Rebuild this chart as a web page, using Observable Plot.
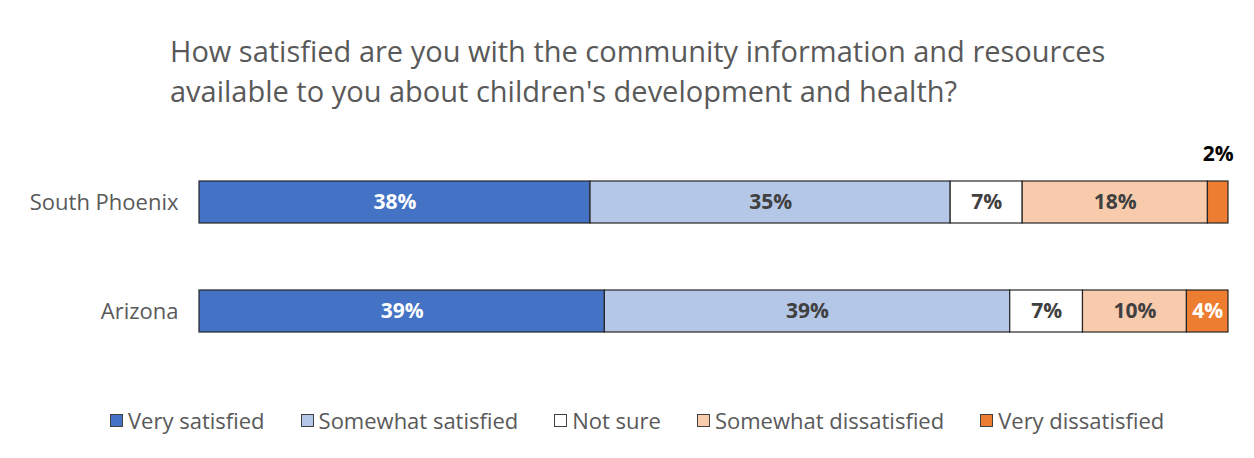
<!DOCTYPE html>
<html>
<head>
<meta charset="utf-8">
<script src="https://cdn.jsdelivr.net/npm/d3@7"></script>
<script src="https://cdn.jsdelivr.net/npm/@observablehq/plot@0.6"></script>
<style>
  body { margin: 0; background: #fff; font-family: "Open Sans", sans-serif; }
  #wrap { width: 1254px; height: 458px; position: relative; overflow: hidden; }
  #title { height: 120px; box-sizing: border-box; padding: 31px 0 0 170px; font-size: 29px; line-height: 40px; color: #595959; white-space: nowrap; }
  #chart { height: 270px; }
  #legend { position: absolute; top: 405px; left: 110px; display: flex; align-items: center; font-size: 22px; color: #595959; white-space: nowrap; }
  .item { display: flex; align-items: center; }
  .sw { width: 11px; height: 11px; border: 1px solid #404040; margin-right: 5px; }
</style>
</head>
<body>
<div id="wrap">
  <div id="title">How satisfied are you with the community information and resources<br>available to you about children's development and health?</div>
  <div id="chart"></div>
  <div id="legend"></div>
</div>
<script>
const regions = ["South Phoenix", "Arizona"];
const categories = ["Very satisfied", "Somewhat satisfied", "Not sure", "Somewhat dissatisfied", "Very dissatisfied"];
const southPhoenix = [38, 35, 7, 18, 2];
const arizona = [39, 39, 7, 10, 4];
const colors = ["#4472C4", "#B4C7E7", "#FFFFFF", "#F8CBAD", "#ED7D31"];
const labelColors = ["#FFFFFF", "#404040", "#404040", "#404040", "#FFFFFF"];
const legendGaps = [36, 36, 36, 36, 0];

const data = [];
[southPhoenix, arizona].forEach((vals, r) => {
  vals.forEach((v, i) => data.push({region: regions[r], category: categories[i], value: v}));
});
const ci = c => categories.indexOf(c);
const isOutside = d => d.region === "South Phoenix" && d.category === "Very dissatisfied";

const font = "'Open Sans', sans-serif";
const stackOpts = (extra) => Plot.stackX({offset: "normalize", x: "value", y: "region", z: "category", ...extra});

const chart = Plot.plot({
  width: 1254, height: 270,
  marginLeft: 199, marginRight: 26, marginTop: 6.5, marginBottom: 3.5,
  x: {axis: null, domain: [0, 1]},
  y: {domain: regions, paddingInner: 0.615, paddingOuter: 0.5, label: null, tickSize: 0, tickPadding: 21},
  style: {fontFamily: font, fontSize: "22px", color: "#595959", background: "transparent"},
  marks: [
    Plot.barX(data, stackOpts({fill: d => colors[ci(d.category)], stroke: "#262626", strokeWidth: 1.2})),
    Plot.text(data, stackOpts({
      text: d => isOutside(d) ? "" : d.value + "%",
      fill: d => labelColors[ci(d.category)],
      fontSize: 21, fontWeight: "bold"
    })),
    Plot.text(data, stackOpts({
      text: d => isOutside(d) ? d.value + "%" : "",
      fill: "#000000", dy: -48,
      fontSize: 21, fontWeight: "bold"
    }))
  ]
});
document.getElementById("chart").appendChild(chart);

const legend = document.getElementById("legend");
categories.forEach((c, i) => {
  const item = document.createElement("div");
  item.className = "item";
  item.style.marginRight = legendGaps[i] + "px";
  const sw = document.createElement("div");
  sw.className = "sw";
  sw.style.background = colors[i];
  const t = document.createElement("span");
  t.textContent = c;
  item.appendChild(sw); item.appendChild(t);
  legend.appendChild(item);
});
</script>
</body>
</html>
